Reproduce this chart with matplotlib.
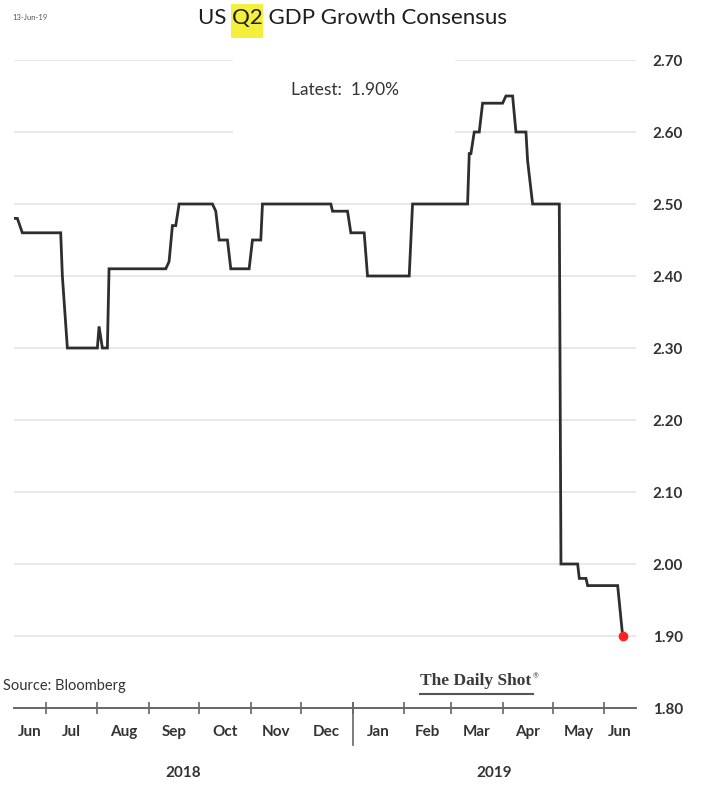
import matplotlib
matplotlib.use("Agg")
import matplotlib.pyplot as plt
import matplotlib.transforms as mtransforms
from matplotlib.patches import Rectangle
import pandas as pd

# Consensus path: dates where the estimate changes, with the level on each side
dates = [
    "2018-06-12", "2018-06-14", "2018-06-17", "2018-07-10", "2018-07-11",
    "2018-07-14", "2018-08-01", "2018-08-02", "2018-08-04", "2018-08-07",
    "2018-08-08", "2018-09-11", "2018-09-13", "2018-09-15", "2018-09-17",
    "2018-09-19", "2018-10-09", "2018-10-11", "2018-10-13", "2018-10-18",
    "2018-10-20", "2018-10-31", "2018-11-02", "2018-11-07", "2018-11-08",
    "2018-12-19", "2018-12-20", "2018-12-29", "2018-12-31", "2019-01-08",
    "2019-01-10", "2019-02-04", "2019-02-06", "2019-03-11", "2019-03-12",
    "2019-03-13", "2019-03-15", "2019-03-18", "2019-03-20", "2019-04-01",
    "2019-04-03", "2019-04-07", "2019-04-09", "2019-04-15", "2019-04-16",
    "2019-04-19", "2019-05-05", "2019-05-06", "2019-05-16", "2019-05-17",
    "2019-05-21", "2019-05-22", "2019-06-09", "2019-06-12",
]
values = [
    2.48, 2.48, 2.46, 2.46, 2.40,
    2.30, 2.30, 2.33, 2.30, 2.30,
    2.41, 2.41, 2.42, 2.47, 2.47,
    2.50, 2.50, 2.49, 2.45, 2.45,
    2.41, 2.41, 2.45, 2.45, 2.50,
    2.50, 2.49, 2.49, 2.46, 2.46,
    2.40, 2.40, 2.50, 2.50, 2.57,
    2.57, 2.60, 2.60, 2.64, 2.64,
    2.65, 2.65, 2.60, 2.60, 2.56,
    2.50, 2.50, 2.00, 2.00, 1.98,
    1.98, 1.97, 1.97, 1.90,
]
y_ticks = [1.80, 1.90, 2.00, 2.10, 2.20, 2.30, 2.40, 2.50, 2.60, 2.70]
latest = values[-1]

x = pd.to_datetime(dates)
x_start = pd.Timestamp("2018-06-12")
x_end = pd.Timestamp("2019-06-20")

TEXT = "#333333"
FONT = ["Lato", "DejaVu Sans"]
SERIF = ["Liberation Serif", "DejaVu Serif"]
plt.rcParams["font.family"] = FONT

W, H = 704, 787
fig = plt.figure(figsize=(W / 100, H / 100), dpi=100, facecolor="white")
ax = fig.add_axes([14 / W, (H - 708) / H, (636 - 14) / W, (708 - 60) / H])

ax.plot(x, values, color="#2e2e2e", lw=2.0, zorder=3, solid_joinstyle="miter")
ax.plot(x[-1:], values[-1:], "o", color="#ff2020", ms=6, zorder=4)

ax.set_xlim(x_start, x_end)
ax.set_ylim(1.80, 2.70)

# horizontal grid, skipping the bottom level where the axis line sits
for v in y_ticks[1:]:
    ax.axhline(v, color="#e8e8e8", lw=1.5, zorder=1)

for side in ["top", "left", "right"]:
    ax.spines[side].set_visible(False)
ax.spines["bottom"].set_color("#666666")
ax.spines["bottom"].set_linewidth(1.4)

ax.yaxis.tick_right()
ax.set_yticks(y_ticks)
ax.set_yticklabels([f"{v:.2f}" for v in y_ticks])
ax.tick_params(axis="y", length=0, pad=12, labelsize=11, labelcolor=TEXT)
for lbl in ax.get_yticklabels():
    lbl.set_fontweight("bold")

# month boundaries as ticks, month names centred in each visible month
bounds = pd.date_range("2018-07-01", "2019-06-01", freq="MS")
ax.set_xticks(bounds)
ax.set_xticklabels([])
ax.tick_params(axis="x", which="major", direction="inout", length=9,
               width=1.2, color="#666666")

months = pd.date_range("2018-06-01", "2019-06-01", freq="MS")
mids, names = [], []
for m in months:
    lo = max(m, x_start)
    hi = min(m + pd.offsets.MonthBegin(1), x_end)
    mids.append(lo + (hi - lo) / 2)
    names.append(m.strftime("%b"))
ax.set_xticks(mids, minor=True)
ax.set_xticklabels(names, minor=True)
ax.tick_params(axis="x", which="minor", length=0, pad=12, labelsize=11,
               labelcolor=TEXT)
for lbl in ax.get_xticklabels(minor=True):
    lbl.set_fontweight("bold")

# year separator and year labels
trans = mtransforms.blended_transform_factory(ax.transData, ax.transAxes)
jan = pd.Timestamp("2019-01-01")
ax.plot([jan, jan], [5 / 648, -37 / 648], transform=trans, color="#666666",
        lw=1.2, clip_on=False)
for lo, hi, yr in [(x_start, jan, "2018"), (jan, x_end, "2019")]:
    ax.text(lo + (hi - lo) / 2, -65 / 648, yr, transform=trans, ha="center",
            va="center", fontsize=11, fontweight="bold", color=TEXT)

# white panel behind the latest reading
ax.add_patch(Rectangle((233 / W, (H - 145) / H), (455 - 233) / W, 100 / H,
                       transform=fig.transFigure, facecolor="white",
                       edgecolor="none", zorder=2))
fig.text(345 / W, 1 - 90 / H, f"Latest:  {latest:.2f}%", ha="center",
         va="center", fontsize=12.5, color=TEXT, zorder=5)

# title with highlighted quarter
title = "US Q2 GDP Growth Consensus"
tx, ty = 352 / W, 1 - 18 / H
t_full = fig.text(tx, ty, title, ha="center", va="center", fontsize=16,
                  color="#1e1e1e", zorder=5)
fig.canvas.draw()
r = fig.canvas.get_renderer()
bb = t_full.get_window_extent(r)
probe = fig.text(0, 0, "US Q2", fontsize=16)
w_usq2 = probe.get_window_extent(r).width
probe.set_text("Q2")
w_q2 = probe.get_window_extent(r).width
probe.remove()
q_left = bb.x0 + w_usq2 - w_q2 - 1
fig.patches.append(Rectangle((q_left / W, 1 - 38 / H), (w_q2 + 2) / W, 34 / H,
                             transform=fig.transFigure, facecolor="#f4ef3c",
                             edgecolor="none", zorder=1))

fig.text(12 / W, 1 - 18 / H, "13-Jun-19", ha="left", va="center",
         fontsize=5.5, color="#555555")
fig.text(3 / W, 1 - 686 / H, "Source: Bloomberg", ha="left", va="center",
         fontsize=10.5, color=TEXT)

# publisher mark
logo = fig.text(420 / W, 1 - 681 / H, "The Daily Shot", ha="left",
                va="center", fontsize=12.5, family=SERIF, fontweight="bold",
                color="#3a3a3a")
fig.canvas.draw()
lb = logo.get_window_extent(fig.canvas.get_renderer())
fig.text((lb.x1 + 1) / W, 1 - 676 / H, "®", ha="left", va="center",
         fontsize=5, color="#3a3a3a")
fig.add_artist(plt.Line2D([lb.x0 / W, (lb.x1 + 2) / W],
                          [1 - 694 / H, 1 - 694 / H],
                          transform=fig.transFigure, color="#555555", lw=1.5))

fig.savefig("out.png", dpi=100, facecolor="white")
